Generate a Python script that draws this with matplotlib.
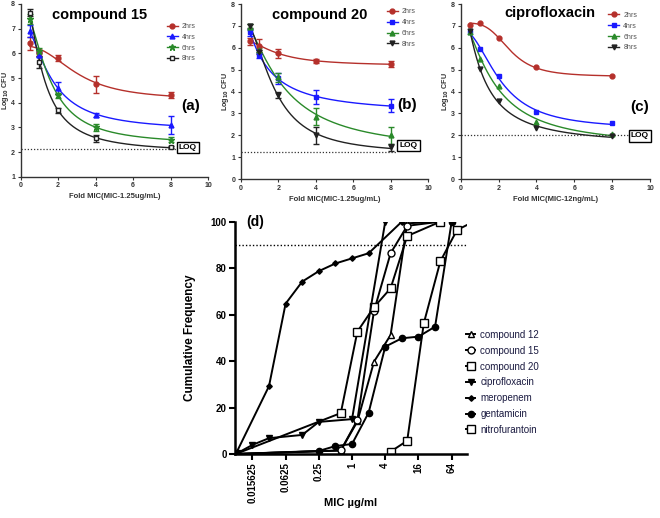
import numpy as np
import matplotlib
matplotlib.use("Agg")
import matplotlib.pyplot as plt
from matplotlib.lines import Line2D

plt.rcParams['font.family'] = ['Liberation Sans', 'DejaVu Sans']

# ---- time-kill data (panels a-c) ----
fold_mic = [0.5, 1, 2, 4, 8]
hours = ['2hrs', '4hrs', '6hrs', '8hrs']

c15_mean = [[6.4, 6.0, 5.8, 4.75, 4.3],
            [6.9, 5.95, 4.6, 3.5, 3.1],
            [7.4, 6.1, 4.3, 3.0, 2.5],
            [7.65, 5.65, 3.7, 2.55, 2.2]]
c15_err = [[0.25, 0.1, 0.12, 0.35, 0.12],
           [0.25, 0.1, 0.25, 0.1, 0.35],
           [0.2, 0.1, 0.1, 0.15, 0.1],
           [0.15, 0.25, 0.1, 0.15, 0.05]]

c20_mean = [[6.3, 6.1, 5.75, 5.4, 5.25],
            [6.7, 5.65, 4.6, 3.75, 3.35],
            [6.95, 5.9, 4.65, 2.85, 2.0],
            [7.0, 5.8, 3.85, 2.0, 1.45]]
c20_err = [[0.15, 0.3, 0.2, 0.08, 0.15],
           [0.15, 0.1, 0.25, 0.3, 0.3],
           [0.15, 0.1, 0.2, 0.4, 0.4],
           [0.1, 0.1, 0.15, 0.4, 0.15]]

cip_mean = [[7.05, 7.15, 6.45, 5.1, 4.7],
            [6.7, 5.95, 4.7, 3.05, 2.55],
            [6.7, 5.5, 4.25, 2.6, 2.05],
            [6.75, 5.05, 3.55, 2.35, 1.95]]

# ---- cumulative MIC distribution (panel d) ----
mic_c12 = [2**-7, 0.625, 1.25, 2.5, 5, 10, 40]
cum_c12 = [0, 1.5, 14, 39.7, 51.2, 99.3, 100]
mic_c15 = [2**-7, 0.625, 1.25, 2.5, 5, 10, 40]
cum_c15 = [0, 1.5, 14.6, 61.5, 86.4, 98.2, 100]
mic_c20 = [2**-7, 0.625, 1.25, 2.5, 5, 10, 40]
cum_c20 = [0, 17.6, 52.7, 63.2, 71.3, 93.8, 100]
mic_cip = [2**-7, 0.015625, 0.03125, 0.125, 0.25, 1, 4]
cum_cip = [0, 3.9, 6.8, 8.2, 13.8, 15, 100]
mic_mer = [2**-7, 0.03125, 0.0625, 0.125, 0.25, 0.5, 1, 2, 8]
cum_mer = [0, 29.2, 64.7, 74.2, 78.7, 82.0, 84.2, 86.4, 100]
mic_gen = [2**-7, 0.25, 0.5, 1, 2, 4, 8, 16, 32, 64]
cum_gen = [0, 1.3, 3.4, 4.3, 17.8, 46.2, 49.8, 50.5, 54.8, 100]
mic_nit = [5, 10, 20, 40, 80, 160]
cum_nit = [1, 5.7, 56.3, 83, 96.4, 100]

d_ticks = [0.015625, 0.0625, 0.25, 1, 4, 16, 64]
d_ticklabels = ['0.015625', '0.0625', '0.25', '1', '4', '16', '64']

colors = ['#b5302b', '#1a1aff', '#2a8a2a', '#222222']


def fit_4pl(x, y):
    # simple grid-search fit of a 4-parameter logistic, like the original fitted curves
    x = np.asarray(x, float)
    y = np.asarray(y, float)
    best = None
    for x50 in np.logspace(-1.5, 1.5, 150):
        for h in np.linspace(0.5, 8, 60):
            f = 1.0 / (1.0 + (x / x50) ** h)
            A = np.column_stack([np.ones_like(f), f])
            coef, *_ = np.linalg.lstsq(A, y, rcond=None)
            sse = np.sum((A @ coef - y) ** 2)
            if best is None or sse < best[0]:
                best = (sse, x50, h, coef)
    _, x50, h, coef = best
    xs = np.linspace(x.min(), x.max(), 200)
    ys = coef[0] + coef[1] / (1.0 + (xs / x50) ** h)
    return xs, ys


def style_small(ax):
    for s in ['top', 'right']:
        ax.spines[s].set_visible(False)
    for s in ['left', 'bottom']:
        ax.spines[s].set_linewidth(1.0)
        ax.spines[s].set_color('#333333')
    ax.tick_params(labelsize=5, width=0.8, length=2.5, pad=1.5, colors='#333333')
    for lab in ax.get_xticklabels() + ax.get_yticklabels():
        lab.set_fontweight('bold')


fig = plt.figure(figsize=(6.6, 5.18), dpi=100)

panels = [
    dict(rect=[0.0314, 0.6589, 0.2838, 0.3334], ylim=(1, 8), means=c15_mean, errs=c15_err,
         markers=['o', '^', '*', 's'], title='compound 15', title_x=0.423, title_y=0.936,
         label='(a)', lab_xy=(9.05, 3.85), xlabel='Fold MIC(MIC-1.25ug/mL)',
         loq=2.12, loq_end=8.33, loq_box=(8.93, 2.2), leg_anchor=(0.76, 0.91)),
    dict(rect=[0.3647, 0.6544, 0.2842, 0.3378], ylim=(0, 8), means=c20_mean, errs=c20_err,
         markers=['o', 's', '^', 'v'], title='compound 20', title_x=0.423, title_y=0.937,
         label='(b)', lab_xy=(8.85, 3.38), xlabel='Fold MIC(MIC-1.25ug/mL)',
         loq=1.25, loq_end=8.3, loq_box=(8.95, 1.55), leg_anchor=(0.76, 0.995)),
    dict(rect=[0.698, 0.6544, 0.2868, 0.3378], ylim=(0, 8), means=cip_mean, errs=None,
         markers=['o', 's', '^', 'v'], title='ciprofloxacin', title_x=0.472, title_y=0.947,
         label='(c)', lab_xy=(9.43, 3.3), xlabel='Fold MIC(MIC-12ng/mL)',
         loq=2.01, loq_end=9.0, loq_box=(9.47, 1.97), leg_anchor=(0.76, 0.975)),
]

for p in panels:
    ax = fig.add_axes(p['rect'])
    handles = []
    for i in range(4):
        c = colors[i]
        m = p['markers'][i]
        face = 'white' if (p['label'] == '(a)' and i == 3) else c
        xs, ys = fit_4pl(fold_mic, p['means'][i])
        ax.plot(xs, ys, color=c, lw=1.0, zorder=2)
        ms = 5 if m == '*' else 3.5
        if p['errs'] is not None:
            ax.errorbar(fold_mic, p['means'][i], yerr=p['errs'][i], fmt=m, color=c,
                        mfc=face, mec=c, ms=ms, elinewidth=1.0, capsize=2, capthick=1.0,
                        mew=1.0, zorder=3)
        else:
            ax.plot(fold_mic, p['means'][i], m, color=c, mfc=face, mec=c, ms=ms, zorder=3)
        handles.append(Line2D([], [], color=c, marker=m, mfc=face, mec=c, ms=ms, lw=1.0))
    ax.plot([0, p['loq_end']], [p['loq'], p['loq']], ls=(0, (1, 1.5)), color='#333333', lw=0.9)
    ax.text(p['loq_box'][0], p['loq_box'][1], 'LOQ', fontsize=6, fontweight='bold',
            ha='center', va='center', clip_on=False,
            bbox=dict(boxstyle='square,pad=0.25', fc='white', ec='black', lw=1.0))
    ax.set_xlim(0, 10)
    ax.set_ylim(*p['ylim'])
    ax.set_xticks([0, 2, 4, 6, 8, 10])
    ax.set_yticks(range(p['ylim'][0], 9))
    style_small(ax)
    ax.set_xlabel(p['xlabel'], fontsize=5.5, fontweight='bold', color='#333333')
    ax.xaxis.set_label_coords(0.5, -0.095)
    ax.set_ylabel('Log$_{\\mathbf{10}}$ CFU', fontsize=5.2, fontweight='bold', color='#333333')
    ax.yaxis.set_label_coords(-0.05, 0.5)
    ax.text(p['title_x'], p['title_y'], p['title'], transform=ax.transAxes, fontsize=10.5,
            fontweight='bold', ha='center', va='center')
    ax.text(p['lab_xy'][0], p['lab_xy'][1], p['label'], fontsize=11, fontweight='bold',
            ha='center', va='center')
    leg = ax.legend(handles, hours, loc='upper left', bbox_to_anchor=p['leg_anchor'],
                    frameon=False, fontsize=5, handlelength=1.6, labelspacing=0.55,
                    handletextpad=0.6, borderpad=0)
    for t in leg.get_texts():
        t.set_color('#555555')

# ---- panel d ----
axd = fig.add_axes([0.356, 0.1236, 0.351, 0.4485])
series_d = [
    ('compound 12', mic_c12, cum_c12, '^', 'white', 5),
    ('compound 15', mic_c15, cum_c15, 'o', 'white', 5),
    ('compound 20', mic_c20, cum_c20, 's', 'white', 5.5),
    ('ciprofloxacin', mic_cip, cum_cip, 'v', 'black', 4.5),
    ('meropenem', mic_mer, cum_mer, 'D', 'black', 2.8),
    ('gentamicin', mic_gen, cum_gen, 'o', 'black', 4.5),
    ('nitrofurantoin', mic_nit, cum_nit, 's', 'white', 5.5),
]
for name, xv, yv, m, face, ms in series_d:
    axd.plot(xv, yv, color='black', lw=1.4, marker=m, mfc=face, mec='black', ms=ms,
             mew=1.0, label=name, clip_on=True)
axd.axhline(90, ls=(0, (1, 1.5)), color='black', lw=1.0)
axd.set_xscale('log', base=2)
axd.set_xlim(2**-7.05, 2**6.9)
axd.set_ylim(0, 100)
axd.set_xticks(d_ticks)
axd.set_xticklabels(d_ticklabels, rotation=90)
axd.minorticks_off()
axd.set_yticks([0, 20, 40, 60, 80, 100])
for s in ['top', 'right']:
    axd.spines[s].set_visible(False)
for s in ['left', 'bottom']:
    axd.spines[s].set_linewidth(1.8)
axd.tick_params(labelsize=7, width=1.5, length=4, pad=2)
for lab in axd.get_xticklabels() + axd.get_yticklabels():
    lab.set_fontweight('bold')
axd.set_ylabel('Cumulative Frequency', fontsize=8.5, fontweight='bold')
axd.yaxis.set_label_coords(-0.17, 0.5)
axd.set_xlabel('MIC \u00b5g/ml', fontsize=8, fontweight='bold')
axd.xaxis.set_label_coords(0.5, -0.19)
axd.text(0.05, 1.0, '(d)', transform=axd.transAxes, fontsize=10, fontweight='bold',
         ha='left', va='center')
legd = axd.legend(loc='upper left', bbox_to_anchor=(0.975, 0.555), frameon=False, fontsize=7,
                  handlelength=1.0, labelspacing=0.6, handletextpad=0.5, borderpad=0)
for t in legd.get_texts():
    t.set_color('#1a1a40')

fig.savefig('out.png', dpi=100)
